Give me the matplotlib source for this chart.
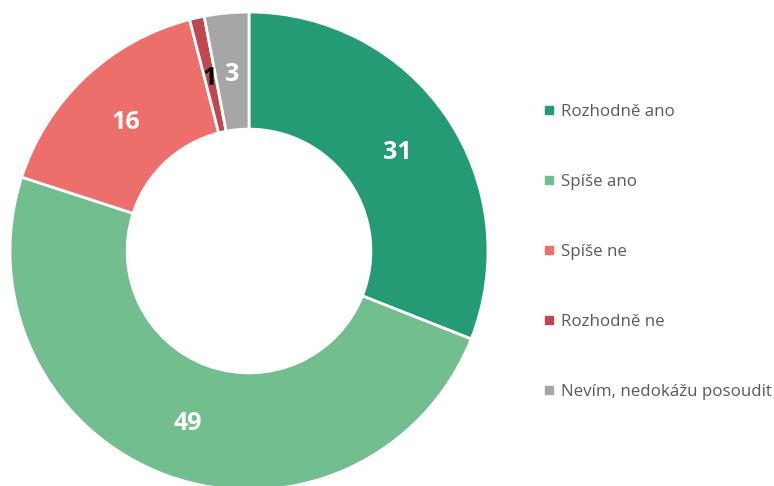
import matplotlib
matplotlib.use("Agg")
import matplotlib.pyplot as plt
from matplotlib.lines import Line2D

categories = ["Rozhodně ano", "Spíše ano", "Spíše ne", "Rozhodně ne", "Nevím, nedokážu posoudit"]
values = [31, 49, 16, 1, 3]
colors = ["#249A75", "#72BE8F", "#EC6F6C", "#BF474F", "#A6A6A6"]
label_colors = ["white", "white", "white", "black", "white"]

W, H = 774, 486
fig = plt.figure(figsize=(W / 100, H / 100), dpi=100)
R = 239
cx, cy = 249, 251
ax = fig.add_axes([(cx - R) / W, (H - cy - R) / H, 2 * R / W, 2 * R / H])
wedges, texts = ax.pie(values, colors=colors, startangle=90, counterclock=False,
                       radius=1, wedgeprops=dict(width=0.49, edgecolor="white", linewidth=2),
                       labels=[str(v) for v in values], labeldistance=0.753)
for t, c in zip(texts, label_colors):
    t.set_color(c)
    t.set_fontsize(18)
    t.set_fontweight("bold")
    t.set_family("Open Sans")
    t.set_ha("center")
    t.set_va("center_baseline")
ax.set_xlim(-1, 1)
ax.set_ylim(-1, 1)
ax.set_aspect("equal")
ax.axis("off")

handles = [Line2D([0], [0], marker="s", color="none", markerfacecolor=c, markeredgecolor=c,
                  markersize=5.5) for c in colors]
leg = fig.legend(handles, categories, loc="upper left", bbox_to_anchor=(536 / W, 1 - 97 / H),
                 frameon=False, prop={"family": "Open Sans", "size": 12.2}, labelspacing=3.19,
                 handlelength=0.7, handletextpad=0.35, borderaxespad=0)
for t in leg.get_texts():
    t.set_color("#595959")

fig.savefig("out.png", dpi=100)
